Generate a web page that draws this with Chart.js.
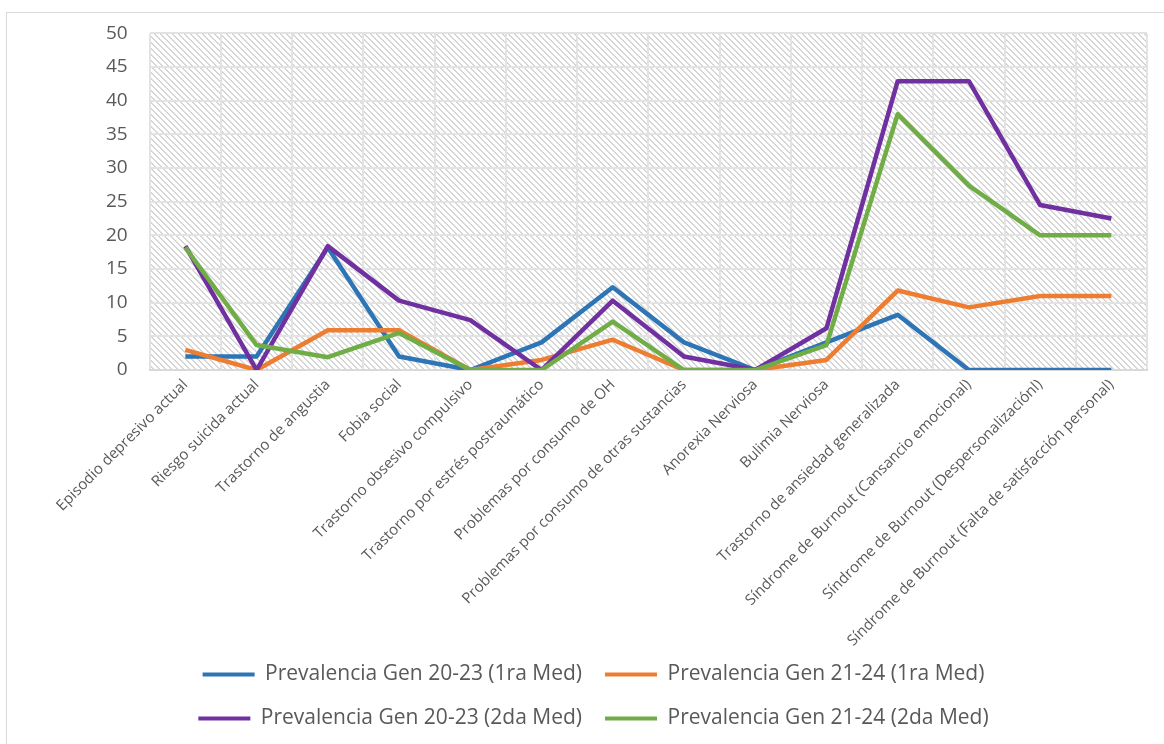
<!DOCTYPE html>
<html>
<head>
<meta charset="utf-8">
<script src="https://cdn.jsdelivr.net/npm/chart.js@4"></script>
<style>
  body { margin: 0; background: #fff; overflow: hidden; }
  #wrap { position: relative; width: 1164px; height: 744px; }
  #frame { position: absolute; left: 6px; top: 12px; width: 1200px; height: 800px; border: 1px solid #d9d9d9; }
  #result-chart { position: absolute; left: 0; top: 0; }
</style>
</head>
<body>
<div id="wrap">
  <div id="frame"></div>
  <canvas id="result-chart" width="1164" height="744"></canvas>
</div>
<script>
var categories = [
    'Episodio depresivo actual',
    'Riesgo suicida actual',
    'Trastorno de angustia',
    'Fobia social',
    'Trastorno obsesivo compulsivo',
    'Trastorno por estrés postraumático',
    'Problemas por consumo de OH',
    'Problemas por consumo de otras sustancias',
    'Anorexia Nerviosa',
    'Bulimia Nerviosa',
    'Trastorno de ansiedad generalizada',
    'Síndrome de Burnout (Cansancio emocional)',
    'Síndrome de Burnout (Despersonalizaciónl)',
    'Síndrome de Burnout (Falta de satisfacción personal)'
]

var seriesNames = [
    'Prevalencia Gen 20-23 (1ra Med)',
    'Prevalencia Gen 21-24 (1ra Med)',
    'Prevalencia Gen 20-23 (2da Med)',
    'Prevalencia Gen 21-24 (2da Med)'
]

var gen2023Med1 = [2, 2, 18.2, 2, 0, 4.1, 12.3, 4.1, 0, 4.1, 8.2, 0, 0, 0]
var gen2124Med1 = [3, 0, 5.9, 5.9, 0, 1.5, 4.5, 0, 0, 1.5, 11.8, 9.3, 11, 11]
var gen2023Med2 = [18.4, 0, 18.4, 10.3, 7.4, 0, 10.3, 2, 0, 6.2, 42.9, 42.9, 24.5, 22.5]
var gen2124Med2 = [18.2, 3.7, 1.9, 5.5, 0, 0, 7.2, 0, 0, 3.7, 38, 27.4, 20, 20]

var yTicks = [0, 5, 10, 15, 20, 25, 30, 35, 40, 45, 50]

var colors = ['#2e75b6', '#ed7d31', '#7030a0', '#70ad47']
var values = [gen2023Med1, gen2124Med1, gen2023Med2, gen2124Med2]

// diagonal hatch like the Excel plot area fill
function makeHatch() {
    var c = document.createElement('canvas')
    c.width = 6
    c.height = 6
    var g = c.getContext('2d')
    g.fillStyle = '#ffffff'
    g.fillRect(0, 0, 6, 6)
    g.fillStyle = '#d6d6d6'
    for (var i = 0; i < 6; i++) {
        g.fillRect(i, i, 1, 1)
        g.fillRect((i + 1) % 6, i, 1, 1)
    }
    return g.createPattern(c, 'repeat')
}

var hatchPlugin = {
    id: 'hatch',
    beforeDraw: function (chart) {
        var a = chart.chartArea
        var ctx = chart.ctx
        ctx.save()
        ctx.fillStyle = makeHatch()
        ctx.fillRect(a.left, a.top, a.right - a.left, a.bottom - a.top)
        ctx.restore()
    }
}

// legend sits a bit left of the plot centre in the original
var legendShift = {
    id: 'legendShift',
    afterLayout: function (chart) {
        chart.legend.left -= 22
        chart.legend.right -= 22
    }
}

var datasets = values.map(function (v, i) {
    return {
        label: seriesNames[i],
        data: v,
        borderColor: colors[i],
        backgroundColor: colors[i],
        borderWidth: 4.5,
        pointRadius: 0,
        tension: 0,
        borderJoinStyle: 'round',
        order: 4 - i
    }
})

var ctx = document.getElementById('result-chart').getContext('2d')

var myChart = new Chart(ctx, {
    type: 'line',
    data: {
        labels: categories,
        datasets: datasets
    },
    plugins: [hatchPlugin, legendShift],
    options: {
        responsive: false,
        animation: false,
        layout: {
            padding: { left: 84, right: 17, top: 24, bottom: 5 }
        },
        plugins: {
            tooltip: { enabled: false },
            legend: {
                position: 'bottom',
                labels: {
                    boxWidth: 52,
                    boxHeight: 4,
                    padding: 23,
                    color: '#595959',
                    font: { family: 'Open Sans', size: 21 },
                    sort: function (a, b) { return a.datasetIndex - b.datasetIndex },
                    generateLabels: function (chart) {
                        return Chart.defaults.plugins.legend.labels.generateLabels(chart).map(function (l) {
                            l.fillStyle = l.strokeStyle
                            l.lineWidth = 0
                            return l
                        })
                    }
                }
            }
        },
        scales: {
            x: {
                offset: true,
                grid: { offset: true, color: '#e3e3e3', lineWidth: 2, drawTicks: false },
                border: { color: '#d9d9d9', width: 2 },
                afterFit: function (scale) {
                    scale.height = 271
                    // let the longest rotated label run past the axis box, as in the original
                    scale._computeLabelArea = function () {}
                },
                ticks: {
                    autoSkip: false,
                    minRotation: 45,
                    maxRotation: 45,
                    padding: 6,
                    color: '#595959',
                    font: { family: 'Open Sans', size: 15 }
                }
            },
            y: {
                min: 0,
                max: 50,
                afterBuildTicks: function (scale) {
                    scale.ticks = yTicks.map(function (v) { return { value: v } })
                },
                grid: { color: '#e3e3e3', lineWidth: 2, drawTicks: false },
                border: { display: false },
                ticks: {
                    padding: 22,
                    color: '#595959',
                    font: { family: 'Open Sans', size: 19 }
                }
            }
        }
    }
})
</script>
</body>
</html>
